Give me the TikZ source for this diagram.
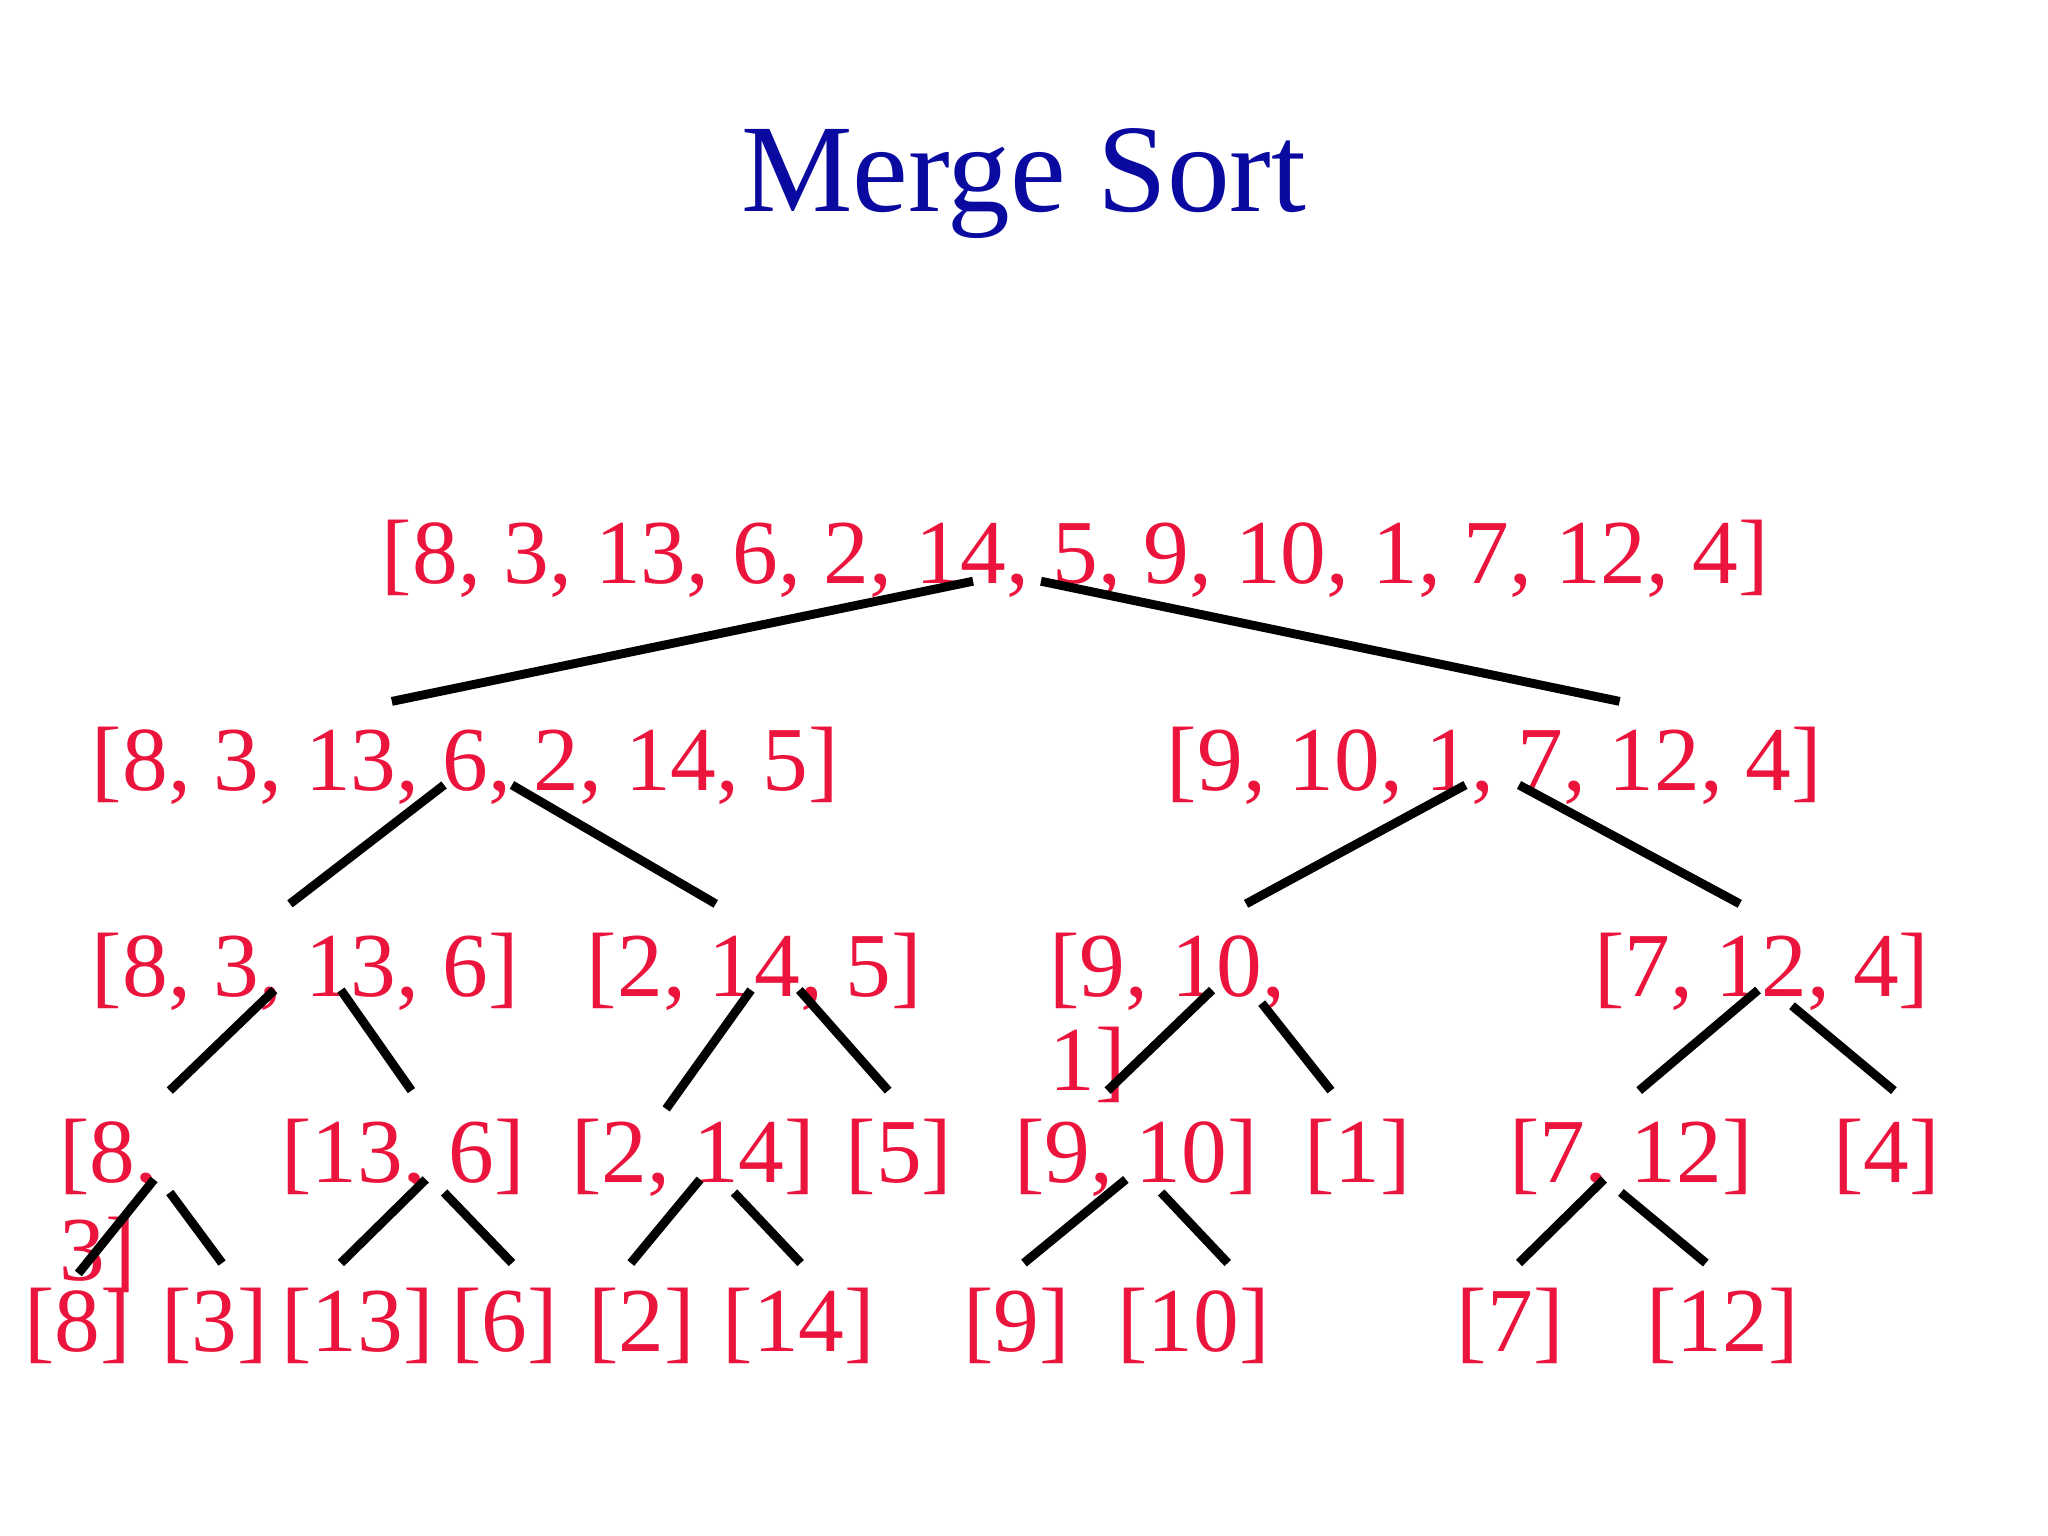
\documentclass[tikz,border=0pt]{standalone}
\usepackage{fontspec}
\setmainfont{Liberation Serif}
\definecolor{tred}{RGB}{235,20,60}
\definecolor{tblue}{RGB}{10,10,160}
\begin{document}
\begin{tikzpicture}[x=0.5pt,y=-0.5pt,
  lbl/.style={anchor=base west,inner sep=0pt,text=tred,font=\fontsize{35}{35}\selectfont},
  br/.style={line width=3.4pt,black}]
\useasboundingbox (0,0) rectangle (1568,1176);
\node[anchor=base,inner sep=0pt,text=tblue,font=\fontsize{48}{48}\selectfont] (title) at (784,162) {Merge Sort};
\node[lbl] (r0) at (292,447) {[8, 3, 13, 6, 2, 14, 5, 9, 10, 1, 7, 12, 4]};
\node[lbl] (a) at (70,605) {[8, 3, 13, 6, 2, 14, 5]};
\node[lbl] (b) at (893,605) {[9, 10, 1, 7, 12, 4]};
\node[lbl] (c) at (70,763) {[8, 3, 13, 6]};
\node[lbl] (d) at (449,763) {[2, 14, 5]};
\node[lbl] (e) at (803,763) {[9, 10,};
\node[lbl] (e2) at (803,835) {1]};
\node[lbl] (f) at (1220,763) {[7, 12, 4]};
\node[lbl] (g) at (45,905) {[8,};
\node[lbl] (g2) at (45,980) {3]};
\node[lbl] (h) at (215,905) {[13, 6]};
\node[lbl] (i) at (437,905) {[2, 14]};
\node[lbl] (j) at (647,905) {[5]};
\node[lbl] (k) at (776,905) {[9, 10]};
\node[lbl] (l) at (998,905) {[1]};
\node[lbl] (m) at (1155,905) {[7, 12]};
\node[lbl] (n) at (1403,905) {[4]};
\foreach \t/\x [count=\i] in {[8]/18,[3]/123,[13]/215,[6]/345,[2]/450,[14]/553,[9]/737,[10]/855,[7]/1115,[12]/1260}
  \node[lbl] (leaf\i) at (\x,1035) {\t};
\foreach \ax/\ay/\bx/\by in {745/445/300/537, 797/445/1240/537,
 340/601/222/692, 392/601/548/692, 1122/601/954/692, 1163/601/1332/692,
 210/758/130/835, 261/758/315/835, 575/758/510/849, 612/758/680/835,
 928/758/848/835, 966/768/1019/835, 1346/758/1255/835, 1372/770/1450/835,
 118/903/60/975, 130/913/170/967, 326/903/261/967, 340/913/392/967,
 536/903/483/967, 562/913/613/967, 862/903/784/967, 889/913/940/967,
 1228/903/1163/967, 1241/913/1306/967}
  \draw[br] (\ax,\ay) -- (\bx,\by);
\end{tikzpicture}
\end{document}
